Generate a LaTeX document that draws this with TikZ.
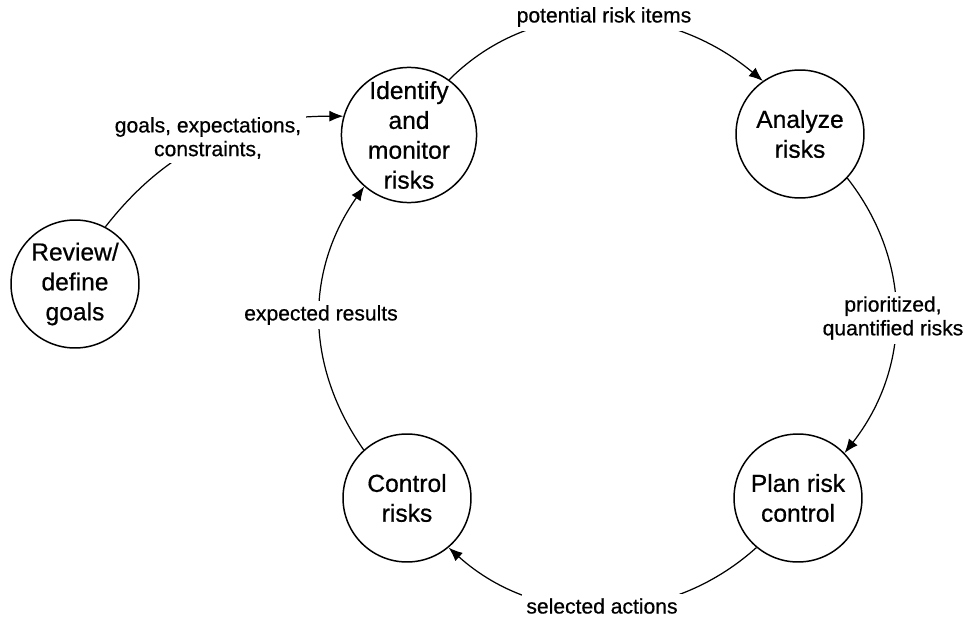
\documentclass[tikz,border=0pt]{standalone}
\usepackage{fontspec}
\setmainfont{Liberation Sans}[FakeBold=0.6]
\usetikzlibrary{arrows.meta}
\begin{document}
\begin{tikzpicture}[x=0.02cm,y=0.02cm,
  stage/.style={circle,draw,line width=0.85pt,minimum size=2.56cm,inner sep=0pt,
    align=center,font=\fontsize{14}{17}\selectfont},
  flow/.style={line width=0.7pt,-{Latex[length=2.8mm,width=2.2mm]}},
  flowlabel/.style={fill=white,inner sep=2.5pt,align=center,
    font=\fontsize{12}{13.5}\selectfont}]
  \useasboundingbox (0,0) rectangle (964,620);

  % process stages
  \node[stage] (ident)  at (409,485) {Identify\\and\\monitor\\risks};
  \node[stage] (anal)   at (800,486) {Analyze\\risks};
  \node[stage] (plan)   at (798,122) {Plan risk\\control};
  \node[stage] (ctrl)   at (407,122) {Control\\risks};
  \node[stage] (review) at (75,336)  {Review/\\define\\goals};

  % cycle connectors
  \draw[flow] (ident.54)  to[out=45,in=140]  (anal.125);
  \draw[flow] (anal.-43)  to[out=-52,in=52]  (plan.44);
  \draw[flow] (plan.230)  to[out=222,in=-42] (ctrl.-50);
  \draw[flow] (ctrl.132)  to[out=125,in=235] (ident.229);
  \draw[flow] (review.62) to[out=52,in=180]  (ident.164);

  % connector labels (drawn on top so they break the lines)
  \node[flowlabel] (l1) at (604,603) {potential risk items};
  \node[flowlabel] (l2) at (893,302) {prioritized,\\quantified risks};
  \node[flowlabel] (l3) at (602,14)  {selected actions};
  \node[flowlabel] (l4) at (321,305) {expected results};
  \node[flowlabel] (l5) at (208,482) {goals, expectations,\\constraints,};
\end{tikzpicture}
\end{document}
